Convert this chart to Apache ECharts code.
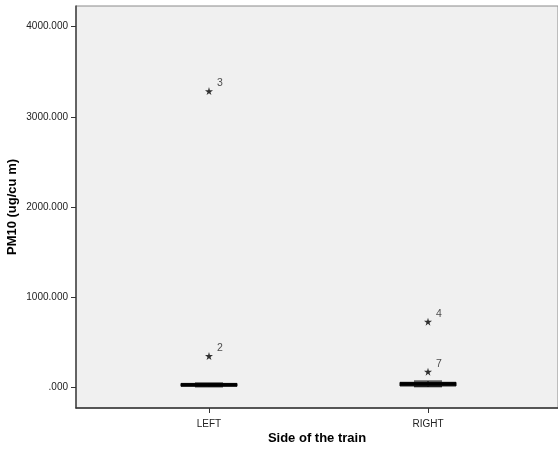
<!DOCTYPE html>
<html>
<head>
<meta charset="utf-8">
<script src="https://cdn.jsdelivr.net/npm/echarts@6/dist/echarts.min.js"></script>
<style>
  html, body { margin: 0; padding: 0; background: #fff; }
  #chart { width: 558px; height: 453px; }
</style>
</head>
<body>
<div id="chart"></div>
<script>
// box summary per side of the train (x position 1 = LEFT, 2 = RIGHT)
const sides = ['LEFT', 'RIGHT'];
const lowWhisker = [2, 3];
const q1 = [8, 12];
const median = [25, 35];
const q3 = [40, 52];
const highWhisker = [44, 66];

// extreme values (stars) with case numbers
const outlierSide = [1, 1, 2, 2];
const outlierValue = [344, 3285, 725, 170];
const outlierCase = ['2', '3', '4', '7'];

const yTicks = [0, 1000, 2000, 3000, 4000];

const boxData = sides.map((s, i) => [i + 1, lowWhisker[i], q1[i], median[i], q3[i], highWhisker[i]]);
const starData = outlierValue.map((v, i) => [outlierSide[i], v, outlierCase[i]]);

const starPath = 'path://M50,0 L61,35 L98,35 L68,57 L79,91 L50,70 L21,91 L32,57 L2,35 L39,35 Z';

function renderBox(params, api) {
    const x = api.value(0);
    const pt = v => api.coord([x, v]);
    const lo = pt(api.value(1)), b1 = pt(api.value(2)), md = pt(api.value(3));
    const b3 = pt(api.value(4)), hi = pt(api.value(5));
    const cx = lo[0];
    const bw = 28, cw = 14;
    const line = (x1, y1, x2, y2, w) => ({
        type: 'line',
        shape: { x1, y1, x2, y2 },
        style: { stroke: '#000', lineWidth: w || 1 }
    });
    return {
        type: 'group',
        children: [
            line(cx, hi[1], cx, b3[1]),
            line(cx, b1[1], cx, lo[1]),
            line(cx - cw, hi[1], cx + cw, hi[1]),
            line(cx - cw, lo[1], cx + cw, lo[1]),
            {
                type: 'rect',
                shape: { x: cx - bw, y: b3[1], width: bw * 2, height: b1[1] - b3[1] },
                style: { fill: '#222', stroke: '#000', lineWidth: 1 }
            },
            line(cx - bw, md[1], cx + bw, md[1], 2.5)
        ]
    };
}

const chart = echarts.init(document.getElementById('chart'));
chart.setOption({
    animation: false,
    textStyle: { fontFamily: 'Liberation Sans, Arial, sans-serif' },
    grid: {
        left: 76, right: 0, top: 6, bottom: 45,
        containLabel: false,
        outerBoundsMode: 'none',
        show: true,
        backgroundColor: '#f0f0f0',
        borderColor: '#8a8a8a',
        borderWidth: 1
    },
    xAxis: {
        type: 'value',
        min: 0.3927,
        max: 2.5936,
        name: 'Side of the train',
        nameLocation: 'middle',
        nameGap: 24,
        nameMoveOverlap: false,
        nameTextStyle: { fontSize: 13, fontWeight: 'bold', color: '#000' },
        axisLine: { show: true, onZero: false, lineStyle: { color: '#333', width: 1.5 } },
        axisTick: { show: true, customValues: [1, 2], length: 5, lineStyle: { color: '#333' } },
        axisLabel: {
            customValues: [1, 2],
            margin: 11,
            fontSize: 10,
            color: '#222',
            formatter: v => sides[Math.round(v) - 1] || ''
        },
        splitLine: { show: false }
    },
    yAxis: {
        type: 'value',
        min: -233,
        max: 4230,
        name: 'PM10 (ug/cu m)',
        nameLocation: 'middle',
        nameGap: 57,
        nameMoveOverlap: false,
        nameTextStyle: { fontSize: 13, fontWeight: 'bold', color: '#000' },
        axisLine: { show: true, lineStyle: { color: '#444', width: 1.5 } },
        axisTick: { show: true, customValues: yTicks, length: 5, lineStyle: { color: '#333' } },
        axisLabel: {
            customValues: yTicks,
            margin: 8,
            fontSize: 10,
            color: '#222',
            formatter: v => v === 0 ? '.000' : v.toFixed(3)
        },
        splitLine: { show: false }
    },
    series: [
        {
            type: 'custom',
            renderItem: renderBox,
            data: boxData,
            z: 3
        },
        {
            type: 'scatter',
            data: starData,
            symbol: starPath,
            symbolSize: 8,
            itemStyle: { color: '#000' },
            label: {
                show: true,
                position: 'right',
                offset: [-1, -8],
                fontSize: 10.5,
                color: '#222',
                formatter: p => p.value[2]
            },
            z: 4
        }
    ]
});
</script>
</body>
</html>
